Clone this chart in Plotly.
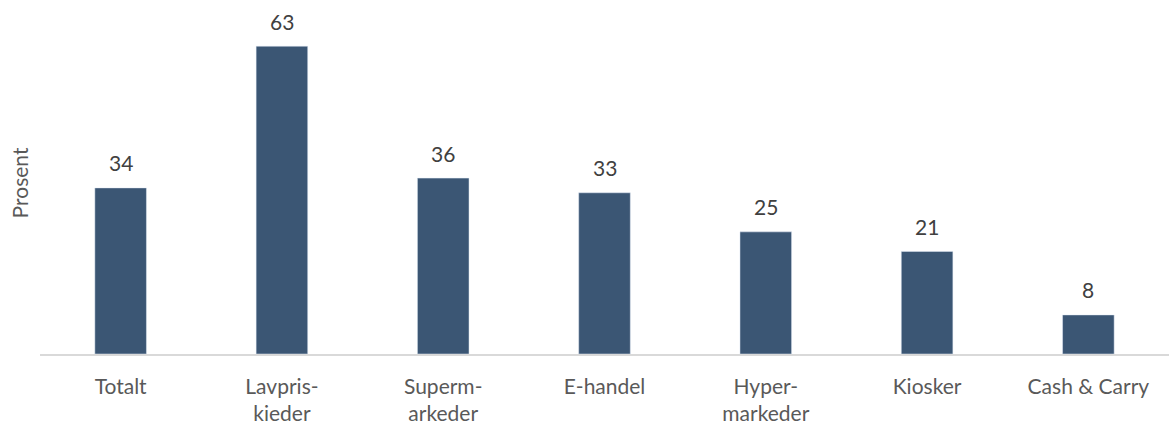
import plotly.graph_objects as go

categories = ["Totalt", "Lavpris-<br>kieder", "Superm-<br>arkeder", "E-handel", "Hyper-<br>markeder", "Kiosker", "Cash & Carry"]
values = [34, 63, 36, 33, 25, 21, 8]

FONT = "Lato, Carlito, Calibri, sans-serif"

fig = go.Figure(go.Bar(
    x=categories, y=values,
    marker=dict(color="#3B5674"),
    cliponaxis=False,
))
for c, v in zip(categories, values):
    fig.add_annotation(x=c, y=v, text=str(v), showarrow=False,
                       yanchor="middle", yshift=25,
                       font=dict(family=FONT, size=21, color="#404040"))
fig.update_layout(
    width=1169, height=423,
    margin=dict(l=40, r=0, t=12, b=69),
    paper_bgcolor="white", plot_bgcolor="white",
    bargap=0.68,
    font=dict(family=FONT, color="#595959", size=21),
    showlegend=False,
    xaxis=dict(showline=True, linecolor="#D9D9D9", linewidth=1.5, ticks="",
               ticklabelstandoff=13, automargin=False,
               tickfont=dict(family=FONT, size=21, color="#595959")),
    yaxis=dict(range=[0, 70], showticklabels=False, showgrid=False, zeroline=False,
               automargin=False,
               title=dict(text="Prosent", font=dict(family=FONT, size=21, color="#595959"), standoff=4)),
)
fig.write_html("out.html")
